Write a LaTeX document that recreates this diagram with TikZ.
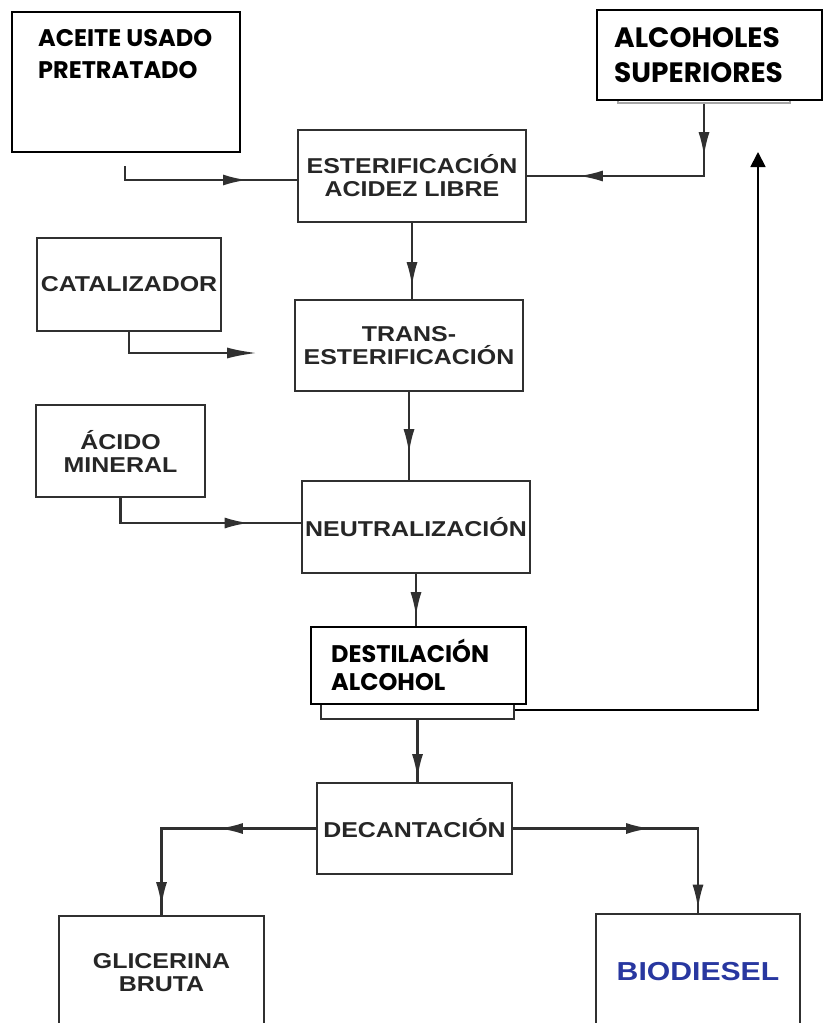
\documentclass[tikz,border=0pt]{standalone}
\usepackage{fontspec}
\setmainfont{Liberation Sans}
\newfontfamily\arialx{Liberation Sans}[FakeStretch=1.16]
\newfontfamily\gothic{Poppins}
\usetikzlibrary{arrows.meta,decorations.markings}
\definecolor{ink}{HTML}{262626}
\definecolor{linec}{HTML}{303030}
\definecolor{biob}{RGB}{40,55,160}
\tikzset{
  orig/.style={draw=linec, line width=2.3pt, fill=white, inner sep=0pt, align=center,
    font=\arialx\bfseries\fontsize{21.5}{23}\selectfont, text=ink},
  over/.style={draw=black, line width=2pt, fill=white, inner sep=0pt},
  overtext/.style={inner sep=0pt, align=left, anchor=base west},
  conn/.style={draw=linec, line width=2.3pt},
  tipat/.style={postaction={decorate}, decoration={markings,
      mark=at position #1 with {\arrow{Latex[length=24pt,width=11pt]}}}},
  tiptwo/.style 2 args={postaction={decorate}, decoration={markings,
      mark=at position #1 with {\arrow{Latex[length=24pt,width=11pt]}},
      mark=at position #2 with {\arrow{Latex[length=24pt,width=11pt]}}}},
}
\begin{document}
\begin{tikzpicture}[x=1pt,y=-1pt]
\useasboundingbox (0,0) rectangle (823,1023);
\clip (0,0) rectangle (823,1023);
\fill[white] (0,0) rectangle (823,1023);

% original boxes
\node[orig, minimum width=228, minimum height=92] (ester) at (412,176) {ESTERIFICACIÓN\\ACIDEZ LIBRE};
\node[orig, minimum width=228, minimum height=91] (trans) at (409,345.5) {TRANS-\\ESTERIFICACIÓN};
\node[orig, minimum width=184, minimum height=93] (cat) at (129,284.5) {CATALIZADOR};
\node[orig, minimum width=169, minimum height=92] (acido) at (120.5,451) {ÁCIDO\\MINERAL};
\node[orig, minimum width=228, minimum height=92] (neutral) at (416,527) {NEUTRALIZACIÓN};
\node[orig, minimum width=193, minimum height=89] (destilorig) at (417.5,674.5) {};
\node[orig, minimum width=195, minimum height=91] (decant) at (414.5,828.5) {DECANTACIÓN};
\node[orig, minimum width=205, minimum height=114] (glic) at (161.5,973) {GLICERINA\\BRUTA};
\node[orig, minimum width=204, minimum height=116, text=biob,
      font=\arialx\bfseries\fontsize{26}{28}\selectfont] (bio) at (698,972) {BIODIESEL};
\node[orig, draw=gray!70, minimum width=172, minimum height=83] (alcoorig) at (704,61.5) {};

% overlay boxes
\node[over, minimum width=228, minimum height=140] (aceite) at (126,82) {};
\node[over, minimum width=225, minimum height=90] (alco) at (709.5,55) {};
\node[over, minimum width=215, minimum height=77] (destil) at (418.5,665.5) {};
\node[overtext, font=\gothic\bfseries\fontsize{24}{32}\selectfont] (aceitetxt) at (38,78) {ACEITE USADO\\PRETRATADO};
\node[overtext, font=\gothic\bfseries\fontsize{28}{35}\selectfont] (alcotxt) at (614,82) {ALCOHOLES\\SUPERIORES};
\node[overtext, font=\gothic\bfseries\fontsize{24}{28}\selectfont] (destiltxt) at (331,690) {DESTILACIÓN\\ALCOHOL};

% connectors
\coordinate (a1) at (125,166);
\draw[conn, tipat=136pt] (a1) |- ([yshift=-4pt]ester.west);
\draw[conn, tiptwo={52pt}{197pt}] (alcoorig.south) |- (ester.east);
\draw[conn, tipat=63pt] (ester.south) -- (ester.south |- trans.north);
\coordinate (catend) at (257,353);
\draw[conn, -{Latex[length=30pt,width=11pt]}] (cat.south) |- (catend);
\draw[conn, tipat=61pt] (trans.south) -- (trans.south |- neutral.north);
\draw[conn, tipat=153pt] (acido.south) |- ([yshift=4pt]neutral.west);
\draw[conn, tipat=42pt] (neutral.south) -- (neutral.south |- destil.north);
\coordinate (retend) at (758,152);
\draw[line width=1.8pt, black, -{Triangle[length=15pt,width=15pt]}] ([yshift=10pt]destilorig.south east) -| (retend);
\draw[conn, tipat=58pt] (destilorig.south) -- (destilorig.south |- decant.north);
\draw[conn, tiptwo={97pt}{232pt}] (decant.west) -| (glic.north);
\draw[conn, tiptwo={137pt}{265pt}] (decant.east) -| (bio.north);
\end{tikzpicture}
\end{document}
